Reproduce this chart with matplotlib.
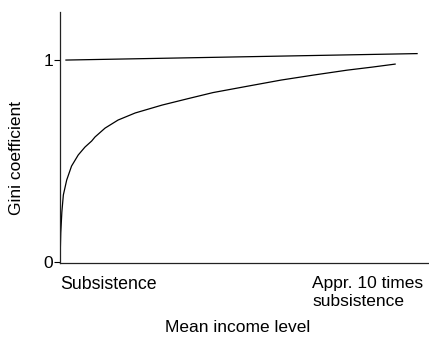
import matplotlib
matplotlib.use('Agg')
import matplotlib.pyplot as plt

plt.rcParams['font.family'] = ['Liberation Sans', 'DejaVu Sans']

# income in multiples of subsistence, Gini
income = [1.00, 1.02, 1.05, 1.09, 1.18, 1.31, 1.49, 1.67, 1.85, 1.94, 2.21, 2.56,
          3.02, 3.74, 4.44, 5.11, 6.05, 6.94, 7.82, 8.71, 9.38, 10.0]
gini = [0.0, 0.144, 0.248, 0.332, 0.406, 0.475, 0.530, 0.569, 0.599, 0.619, 0.663, 0.703,
        0.738, 0.777, 0.809, 0.839, 0.871, 0.901, 0.926, 0.950, 0.965, 0.980]

# the upper limit line
limit_x = [1.16, 10.59]
limit_y = [1.0, 1.032]

yticks = [0, 1]
ytick_labels = ['0', '1']

fig = plt.figure(figsize=(4.29, 3.42), dpi=100)
ax = fig.add_axes([60 / 429, 1 - 263 / 342, 369 / 429, 251 / 342])

ax.plot(income, gini, color='black', lw=0.9, solid_joinstyle='round')
ax.plot(limit_x, limit_y, color='black', lw=0.9)

ax.set_xlim(1, 10.91)
ax.set_ylim(-0.005, 1.238)
ax.spines['top'].set_visible(False)
ax.spines['right'].set_visible(False)
for s in ['left', 'bottom']:
    ax.spines[s].set_linewidth(0.9)
    ax.spines[s].set_color('#222222')

ax.set_xticks([])
ax.set_yticks(yticks)
ax.set_yticklabels(ytick_labels, fontsize=12.5)
ax.tick_params(axis='y', length=4, width=0.8, pad=1)

tr = ax.get_xaxis_transform()
ax.text(1.0, -0.052, 'Subsistence', transform=tr, ha='left', va='top', fontsize=12.8)
ax.text(7.77, -0.052, 'Appr. 10 times\nsubsistence', transform=tr, ha='left', va='top',
        fontsize=12.5, linespacing=1.25)

fig.text(238 / 429, 1 - 328 / 342, 'Mean income level', ha='center', va='center', fontsize=12.5)
fig.text(17 / 429, 1 - 158 / 342, 'Gini coefficient', ha='center', va='center',
         rotation=90, fontsize=12.5)

fig.savefig('out.png', dpi=100)
